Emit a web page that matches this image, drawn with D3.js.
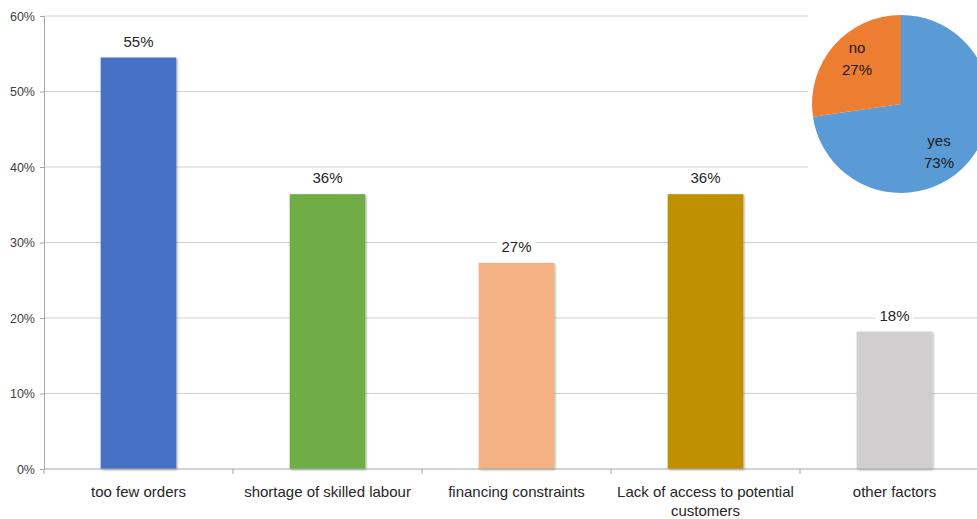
<!DOCTYPE html>
<html>
<head>
<meta charset="utf-8">
<script src="https://cdn.jsdelivr.net/npm/d3@7"></script>
<style>
  body { margin: 0; background: #fff; }
  svg { display: block; font-family: "Liberation Sans", Arial, sans-serif; }
</style>
</head>
<body>
<div class="canvas"></div>
<script>
// chart data
const categories = ['too few orders', 'shortage of skilled labour', 'financing constraints', 'Lack of access to potential customers', 'other factors'];
const shares = [54.5, 36.4, 27.3, 36.4, 18.2];
const barColors = ['#4472C4', '#70AD47', '#F4B183', '#BF9000', '#D0CECE'];
const yTicks = [0, 10, 20, 30, 40, 50, 60];

const pieLabels = ['yes', 'no'];
const pieValues = [72.7, 27.3];
const pieColors = ['#5B9BD5', '#ED7D31'];

const dimensions = { width: 977, height: 519 };
const margin = { top: 16, left: 44, bottom: 50 };

const svg = d3.select('.canvas')
    .append('svg')
    .attr('width', dimensions.width)
    .attr('height', dimensions.height);

const y = d3.scaleLinear()
    .domain([0, 60])
    .range([dimensions.height - margin.bottom, margin.top]);

const x = d3.scaleBand()
    .domain(categories)
    .range([margin.left, margin.left + 189 * categories.length])
    .paddingInner(0)
    .paddingOuter(0);

const barWidth = x.bandwidth() * 0.4;

// gridlines
svg.append('g')
    .selectAll('line')
    .data(yTicks.filter(t => t > 0))
    .enter().append('line')
    .attr('x1', margin.left)
    .attr('x2', dimensions.width)
    .attr('y1', d => y(d))
    .attr('y2', d => y(d))
    .attr('stroke', '#d0d0d0')
    .attr('stroke-width', 1);

// y axis
const yAxis = svg.append('g')
    .attr('transform', `translate(${margin.left}, 0)`)
    .call(d3.axisLeft(y).tickValues(yTicks).tickSize(4).tickFormat(d => d + '%'));
yAxis.select('.domain').attr('stroke', '#a6a6a6');
yAxis.selectAll('.tick line').attr('stroke', '#a6a6a6');
yAxis.selectAll('text').attr('fill', '#404040').style('font-size', '12.5px').attr('x', -9);

// bars
const defs = svg.append('defs');
const shadow = defs.append('filter').attr('id', 'shadow')
    .attr('x', '-10%').attr('y', '-10%').attr('width', '130%').attr('height', '120%');
shadow.append('feDropShadow')
    .attr('dx', 1).attr('dy', 1).attr('stdDeviation', 1.2)
    .attr('flood-color', '#000').attr('flood-opacity', 0.35);

svg.append('g')
    .selectAll('rect')
    .data(shares)
    .enter().append('rect')
    .attr('x', (d, i) => x(categories[i]) + (x.bandwidth() - barWidth) / 2)
    .attr('y', d => y(d))
    .attr('width', barWidth)
    .attr('height', d => y(0) - y(d))
    .attr('fill', (d, i) => barColors[i])
    .attr('filter', 'url(#shadow)');

// x axis
const xAxis = svg.append('g')
    .attr('transform', `translate(0, ${y(0)})`);
xAxis.append('line')
    .attr('x1', margin.left).attr('x2', dimensions.width)
    .attr('stroke', '#a6a6a6');
xAxis.selectAll('.tk')
    .data(categories)
    .enter().append('line')
    .attr('class', 'tk')
    .attr('x1', d => x(d)).attr('x2', d => x(d))
    .attr('y1', 0).attr('y2', 5)
    .attr('stroke', '#a6a6a6');

// category labels, wrapped like the original
const wrapped = {
    'Lack of access to potential customers': ['Lack of access to potential', 'customers']
};
xAxis.selectAll('text')
    .data(categories)
    .enter().append('text')
    .attr('text-anchor', 'middle')
    .attr('fill', '#262626')
    .style('font-size', '15px')
    .attr('transform', d => `translate(${x(d) + x.bandwidth() / 2}, 28)`)
    .each(function(d){
        const lines = wrapped[d] || [d];
        d3.select(this).selectAll('tspan')
            .data(lines)
            .enter().append('tspan')
            .attr('x', 0)
            .attr('dy', (l, i) => i === 0 ? 0 : 19)
            .text(l => l);
    });

// value labels with white backing over the gridlines
const labels = svg.append('g')
    .selectAll('g')
    .data(shares)
    .enter().append('g')
    .attr('transform', (d, i) => `translate(${x(categories[i]) + x.bandwidth() / 2}, ${y(d) - 11})`);
labels.append('rect')
    .attr('x', -19).attr('y', -12).attr('width', 38).attr('height', 16)
    .attr('fill', '#fff');
labels.append('text')
    .attr('text-anchor', 'middle')
    .attr('fill', '#262626')
    .style('font-size', '15px')
    .text(d => Math.round(d) + '%');

// inset pie
const pieCenter = { x: 901, y: 104 };
const radius = 89;

svg.append('rect')
    .attr('x', 808).attr('y', 0)
    .attr('width', dimensions.width - 808).attr('height', 205)
    .attr('fill', '#fff');

const pie = d3.pie().sort(null).value(d => d);
const arcPath = d3.arc().innerRadius(0).outerRadius(radius);

const pieGroup = svg.append('g')
    .attr('transform', `translate(${pieCenter.x}, ${pieCenter.y})`);

pieGroup.selectAll('path')
    .data(pie(pieValues))
    .enter().append('path')
    .attr('d', arcPath)
    .attr('fill', (d, i) => pieColors[i]);

const pieLabelPos = [[38, 42], [-44, -51]];
pieGroup.selectAll('text')
    .data(pie(pieValues))
    .enter().append('text')
    .attr('text-anchor', 'middle')
    .attr('fill', '#1a1a1a')
    .style('font-size', '15px')
    .attr('transform', (d, i) => `translate(${pieLabelPos[i][0]}, ${pieLabelPos[i][1]})`)
    .each(function(d, i){
        d3.select(this).append('tspan').attr('x', 0).attr('dy', 0).text(pieLabels[i]);
        d3.select(this).append('tspan').attr('x', 0).attr('dy', 22).text(Math.round(d.data) + '%');
    });
</script>
</body>
</html>
